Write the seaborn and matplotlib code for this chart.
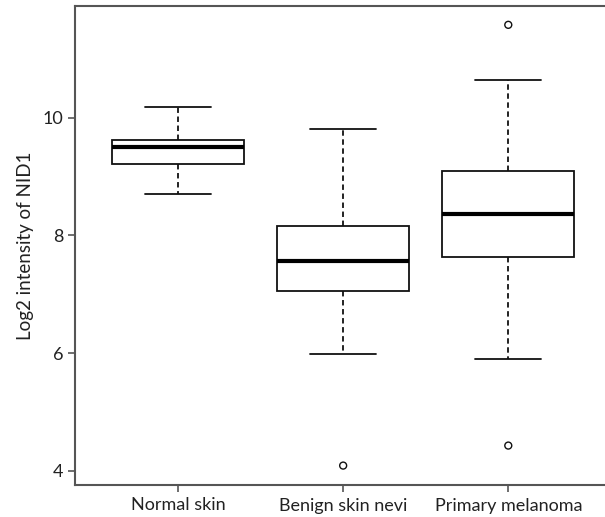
import numpy as np
import pandas as pd
import matplotlib
matplotlib.use('Agg')
import matplotlib.pyplot as plt
import seaborn as sns

sns.set_style('ticks')
plt.rcParams['font.family'] = ['Lato', 'DejaVu Sans']

# Groups and their box summaries
groups = ['Normal skin', 'Benign skin nevi', 'Primary melanoma']
whisker_low = [8.70, 5.98, 5.90]
q1 = [9.21, 7.05, 7.63]
median = [9.50, 7.56, 8.37]
q3 = [9.63, 8.16, 9.10]
whisker_high = [10.18, 9.81, 10.65]

# Outliers
out_group = ['Benign skin nevi', 'Primary melanoma', 'Primary melanoma']
out_value = [4.09, 11.58, 4.43]

rows = []
for i, g in enumerate(groups):
    for v in [whisker_low[i], q1[i], median[i], q3[i], whisker_high[i]]:
        rows.append({'group': g, 'value': v})
df = pd.DataFrame(rows)
df_out = pd.DataFrame({'group': out_group, 'value': out_value})

fig = plt.figure(figsize=(6.05, 5.17), dpi=100)
ax = fig.add_axes([75 / 605, 32 / 517, 535 / 605, 479 / 517])

edge = '#111111'
sns.boxplot(data=df, x='group', y='value', order=groups, ax=ax,
            whis=(0, 100), width=0.8, color='white', linecolor=edge,
            linewidth=1.3, showfliers=False,
            boxprops={'facecolor': 'white', 'edgecolor': edge},
            whiskerprops={'linestyle': (0, (3, 2)), 'color': edge},
            capprops={'color': edge},
            medianprops={'color': 'black', 'linewidth': 3})
sns.stripplot(data=df_out, x='group', y='value', order=groups, ax=ax,
              jitter=False, marker='o', size=5, color='none',
              edgecolor=edge, linewidth=1.0)

ax.set_xlim(-0.624, 2.616)
ax.set_ylim(3.76, 11.90)
ax.set_yticks([4, 6, 8, 10])
ax.set_xlabel('')
ax.set_ylabel('Log2 intensity of NID1', fontsize=13.5, color='#222222', labelpad=6)
ax.tick_params(axis='both', labelsize=13, colors='#555555', labelcolor='#222222',
               width=1.2, length=5)
ax.tick_params(axis='x', pad=4)

for side in ['left', 'top', 'bottom', 'right']:
    ax.spines[side].set_color('#555555')
    ax.spines[side].set_linewidth(1.5)

fig.savefig('out.png', dpi=100)
